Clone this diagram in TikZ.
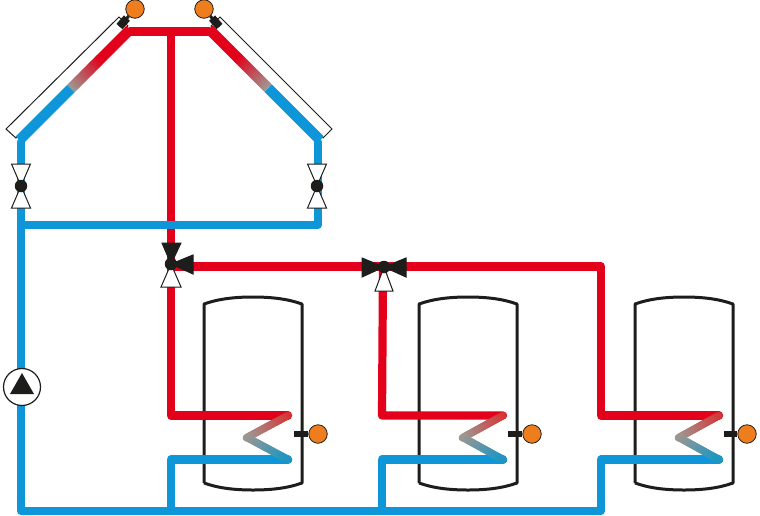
\documentclass[tikz,border=0pt]{standalone}
\usepackage{tikz}
\usetikzlibrary{calc}
\definecolor{pipered}{RGB}{226,0,26}
\definecolor{pipeblue}{RGB}{15,150,216}
\definecolor{pipegrey}{RGB}{160,150,145}
\definecolor{coilred}{RGB}{215,50,50}
\definecolor{coilteal}{RGB}{25,150,195}
\definecolor{sensororange}{RGB}{238,125,30}
\definecolor{partblack}{RGB}{29,29,27}
\tikzset{
	redpipe/.style={draw=pipered,line width=8.2,line join=round,line cap=round},
	bluepipe/.style={draw=pipeblue,line width=8.2,line join=round,line cap=round},
	roofpipe/.style={line width=10.5,line cap=butt},
	coilpipe/.style={line width=7.5,line cap=round},
	tankstyle/.style={draw=partblack,line width=3},
	panelstyle/.style={draw=partblack,line width=1,fill=white},
	openarm/.style={draw=partblack,line width=1,fill=white,line join=miter},
	darkarm/.style={draw=partblack,line width=1,fill=partblack},
	knobstyle/.style={circle,fill=partblack,inner sep=0,minimum size=12.5},
	sensorstyle/.style={circle,draw=partblack,line width=0.8,fill=sensororange,inner sep=0,minimum size=18.5},
	stemstyle/.style={draw=partblack,line width=6.5},
	pumpstyle/.style={circle,draw=partblack,line width=1.2,fill=white,inner sep=0,minimum size=37}
}
% pipe piece that fades from one colour into another
\newcommand{\blendpipe}[5]{
	\foreach \t in {0,4,...,96}{
		\draw[#5,draw=#4!\t!#3] ($(#1)!\t/100!(#2)$) -- ($(#1)!\t/100+0.055!(#2)$);
	}
}
\begin{document}
\begin{tikzpicture}[x=1pt,y=-1pt]
	\useasboundingbox (0,0) rectangle (760,515);
	% collectors
	\draw[panelstyle] (6,129) -- (119,17) -- (128,26) -- (16,138) -- cycle;
	\draw[panelstyle] (332,129) -- (220,17) -- (211,26) -- (323,138) -- cycle;
	\coordinate (leftlow) at (19.5,140);
	\coordinate (leftmid) at (71,88.5);
	\coordinate (lefthot) at (100,59.5);
	\coordinate (lefttop) at (130,29.5);
	\coordinate (rightlow) at (320,140);
	\coordinate (rightmid) at (268,88);
	\coordinate (righthot) at (238,58);
	\coordinate (righttop) at (209,29);
	\draw[roofpipe,draw=pipeblue] (leftlow) -- (leftmid);
	\draw[roofpipe,draw=pipered] (lefthot) -- (lefttop);
	\blendpipe{leftmid}{lefthot}{pipegrey}{pipered}{roofpipe}
	\draw[roofpipe,draw=pipeblue] (rightlow) -- (rightmid);
	\draw[roofpipe,draw=pipered] (righthot) -- (righttop);
	\blendpipe{rightmid}{righthot}{pipegrey}{pipered}{roofpipe}
	% junction points
	\coordinate (topleft) at (130,31.5);
	\coordinate (topmid) at (171,31.5);
	\coordinate (topright) at (209,31.5);
	\coordinate (mixone) at (171,266.5);
	\coordinate (mixtwo) at (383,266.5);
	\coordinate (feedone) at (171,415.5);
	\coordinate (feedtwo) at (382,415.5);
	\coordinate (feedcorner) at (601,266.5);
	\coordinate (feedthree) at (601,415.5);
	\coordinate (hotone) at (288,415.5);
	\coordinate (hottwo) at (503,415.5);
	\coordinate (hotthree) at (719,415.5);
	\coordinate (bendone) at (247,437.5);
	\coordinate (bendtwo) at (463,437.5);
	\coordinate (bendthree) at (679,437.5);
	\coordinate (coldone) at (288,459.5);
	\coordinate (coldtwo) at (503,459.5);
	\coordinate (coldthree) at (719,459.5);
	\coordinate (backone) at (171,459.5);
	\coordinate (backtwo) at (382,459.5);
	\coordinate (backthree) at (601,459.5);
	\coordinate (floorone) at (171,511);
	\coordinate (floortwo) at (382,511);
	\coordinate (floorthree) at (601,511);
	\coordinate (floorleft) at (21,511);
	\coordinate (riserleft) at (21,142);
	\coordinate (riserright) at (318,142);
	\coordinate (crossleft) at (21,225);
	\coordinate (crossright) at (318,225);
	% tanks
	\foreach \name/\x in {one/204,two/419,three/635}{
		\draw[tankstyle,line join=round] (\x,483) -- (\x,304) .. controls (\x+14,299) and (\x+30,297) .. (\x+49,297)
			.. controls (\x+68,297) and (\x+84,299) .. (\x+98,304) -- (\x+98,483)
			.. controls (\x+84,488) and (\x+68,490) .. (\x+49,490)
			.. controls (\x+30,490) and (\x+14,488) .. (\x,483);
	}
	% red pipes
	\draw[redpipe] (topleft) -- (topright);
	\draw[redpipe,line cap=butt] (topmid) -- (mixone);
	\draw[redpipe] (mixone) -- (feedone) -- (hotone);
	\draw[redpipe] (mixone) -- (mixtwo);
	\draw[redpipe] (mixtwo) -- (feedtwo) -- (hottwo);
	\draw[redpipe] (mixtwo) -- (feedcorner) -- (feedthree) -- (hotthree);
	% blue pipes
	\draw[bluepipe] (riserleft) -- (floorleft) -- (floorthree) -- (backthree) -- (coldthree);
	\draw[bluepipe] (riserright) -- (crossright) -- (crossleft);
	\draw[bluepipe] (floorone) -- (backone) -- (coldone);
	\draw[bluepipe] (floortwo) -- (backtwo) -- (coldtwo);
	% coils
	\blendpipe{hotone}{bendone}{coilred}{pipegrey}{coilpipe}
	\blendpipe{bendone}{coldone}{pipegrey}{coilteal}{coilpipe}
	\blendpipe{hottwo}{bendtwo}{coilred}{pipegrey}{coilpipe}
	\blendpipe{bendtwo}{coldtwo}{pipegrey}{coilteal}{coilpipe}
	\blendpipe{hotthree}{bendthree}{coilred}{pipegrey}{coilpipe}
	\blendpipe{bendthree}{coldthree}{pipegrey}{coilteal}{coilpipe}
	% sensors
	\node[sensorstyle] (roofleft) at (135,9) {};
	\node[sensorstyle] (roofright) at (204,9) {};
	\node[sensorstyle] (sensorone) at (318,434) {};
	\node[sensorstyle] (sensortwo) at (532,434) {};
	\node[sensorstyle] (sensorthree) at (747,434) {};
	\coordinate (stemleft) at (119.5,26.5);
	\coordinate (stemright) at (219.5,26.5);
	\coordinate (stemone) at (294,434);
	\coordinate (stemtwo) at (508,434);
	\coordinate (stemthree) at (724,434);
	\draw[partblack,line width=3] (stemleft) -- (roofleft);
	\draw[stemstyle,line width=8] (stemleft) -- ($(stemleft)!0.48!(roofleft)$);
	\draw[partblack,line width=3] (stemright) -- (roofright);
	\draw[stemstyle,line width=8] (stemright) -- ($(stemright)!0.48!(roofright)$);
	\draw[stemstyle] (stemone) -- (sensorone);
	\draw[stemstyle] (stemtwo) -- (sensortwo);
	\draw[stemstyle] (stemthree) -- (sensorthree);
	% valves
	\foreach \name/\x in {valveleft/21,valveright/317}{
		\draw[openarm] (\x,186) -- (\x-9.5,164) -- (\x+9.5,164) -- cycle;
		\draw[openarm] (\x,186) -- (\x-9.5,208) -- (\x+9.5,208) -- cycle;
		\node[knobstyle] (\name) at (\x,186) {};
	}
	\draw[darkarm] (171,264) -- (162,243) -- (181,243) -- cycle;
	\draw[darkarm] (171,264) -- (193,255) -- (193,274) -- cycle;
	\draw[openarm] (171,264) -- (161,287) -- (181,287) -- cycle;
	\node[knobstyle] (valvemixone) at (171,264) {};
	\draw[darkarm] (384,267) -- (362,258) -- (362,277) -- cycle;
	\draw[darkarm] (384,267) -- (406,258) -- (406,277) -- cycle;
	\draw[openarm] (384,267) -- (375,291) -- (393,291) -- cycle;
	\node[knobstyle] (valvemixtwo) at (384,267) {};
	% pump
	\node[pumpstyle] (pump) at (22,387) {};
	\fill[partblack] (22,373) -- (34,394) -- (10,394) -- cycle;
\end{tikzpicture}
\end{document}
